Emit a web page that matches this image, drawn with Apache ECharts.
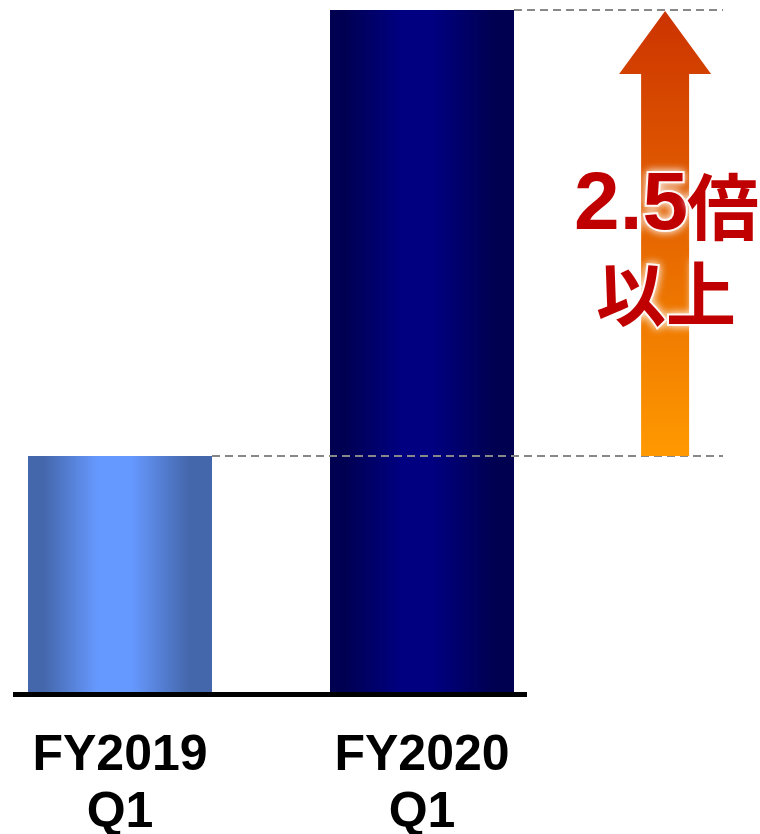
<!DOCTYPE html>
<html><head><meta charset="utf-8">
<script src="https://cdn.jsdelivr.net/npm/echarts@6/dist/echarts.min.js"></script>
<style>html,body{margin:0;padding:0;background:#fff}#c{width:760px;height:834px}</style>
</head><body><div id="c"></div>
<script>
// ---- data ----
const categories = ['FY2019\nQ1', 'FY2020\nQ1'];
const values = [1.01, 2.9];
const ratioText = '2.5';
const ratioUnit = '倍';
const ratioSuffix = '以上';
const arrowAt = 1.805;          // horizontal position of arrow (category units)

// ---- layout ----
const unitPx = 302, barWidthPx = 184;
const half = barWidthPx / 2 / unitPx;
const xMin = -107 / unitPx;
const xMax = xMin + 747 / unitPx;
const baseEnd = 1 + 105 / unitPx;
const dashEnd = 1 + 301 / unitPx;

const barColors = [
  new echarts.graphic.LinearGradient(0, 0, 1, 0, [
    {offset: 0, color: '#4466AA'}, {offset: 0.08, color: '#4466AA'},
    {offset: 0.38, color: '#6699FF'}, {offset: 0.56, color: '#6699FF'},
    {offset: 0.88, color: '#4466AA'}, {offset: 1, color: '#4466AA'}]),
  new echarts.graphic.LinearGradient(0, 0, 1, 0, [
    {offset: 0, color: '#000050'}, {offset: 0.08, color: '#000052'},
    {offset: 0.38, color: '#000080'}, {offset: 0.56, color: '#000080'},
    {offset: 0.88, color: '#000052'}, {offset: 1, color: '#000050'}])
];

const chart = echarts.init(document.getElementById('c'), null, {renderer: 'canvas'});
chart.setOption({
  animation: false,
  backgroundColor: '#fff',
  grid: {left: 13, right: 0, top: 10, bottom: 139.5, containLabel: false, outerBoundsMode: 'none'},
  xAxis: {
    type: 'value', min: xMin, max: xMax,
    axisLine: {show: false}, axisTick: {show: false}, splitLine: {show: false},
    axisLabel: {
      customValues: categories.map((_, i) => i),
      formatter: v => categories[Math.round(v)] || '',
      fontFamily: 'Liberation Sans, Arial, sans-serif', fontWeight: 'bold',
      fontSize: 50, lineHeight: 57, color: '#000', margin: 33
    }
  },
  yAxis: {type: 'value', min: 0, max: values[1], show: false, splitLine: {show: false}},
  series: [{
    type: 'bar',
    barWidth: barWidthPx,
    data: values.map((v, i) => ({value: [i, v], itemStyle: {color: barColors[i]}})),
    markLine: {
      symbol: 'none', silent: true, label: {show: false},
      lineStyle: {type: [8, 5], color: '#888', width: 2},
      data: [
        [{coord: [half, values[0]]}, {coord: [dashEnd, values[0]]}],
        [{coord: [1 + half, values[1]]}, {coord: [dashEnd, values[1]]}],
        [{coord: [xMin, 0], lineStyle: {type: 'solid', color: '#000', width: 5}},
         {coord: [baseEnd, 0]}]
      ]
    }
  }, {
    type: 'custom',
    data: [[arrowAt, values[0], values[1]]],
    z: 5,
    renderItem(params, api) {
      const b = api.coord([api.value(0), api.value(1)]);
      const t = api.coord([api.value(0), api.value(2)]);
      const cx = b[0], yb = b[1], yt = t[1] + 1;
      const sw = 48, hw = 92, hh = 63;
      const pts = [[cx - sw / 2, yb], [cx - sw / 2, yt + hh], [cx - hw / 2, yt + hh], [cx, yt],
                   [cx + hw / 2, yt + hh], [cx + sw / 2, yt + hh], [cx + sw / 2, yb]];
      const H = yb - yt;
      const glow = {shadowColor: '#fff', shadowBlur: 8, textShadowColor: '#fff', textShadowBlur: 8,
                    stroke: 'rgba(255,255,255,0.9)', lineWidth: 4};
      const red = '#C00000';
      return {type: 'group', children: [
        {type: 'polygon', shape: {points: pts},
         style: {fill: new echarts.graphic.LinearGradient(0, 0, 0, 1, [
           {offset: 0, color: '#CC3300'}, {offset: 1, color: '#FF9900'}])}},
        {type: 'text', x: cx + 23, y: yt + H * 0.44,
         style: Object.assign({
           text: ratioText, align: 'right', verticalAlign: 'middle',
           fontFamily: 'Liberation Sans, Arial, sans-serif', fontWeight: 'bold', fontSize: 82, fill: red
         }, glow)},
        {type: 'text', x: cx + 22, y: yt + H * 0.44,
         style: Object.assign({
           text: ratioUnit, align: 'left', verticalAlign: 'middle',
           fontFamily: 'Noto Sans CJK JP', fontWeight: 'bold', fontSize: 72, fill: red
         }, glow)},
        {type: 'text', x: cx + 1, y: yt + H * 0.637,
         style: Object.assign({
           text: ratioSuffix, align: 'center', verticalAlign: 'middle',
           fontFamily: 'Noto Sans CJK JP', fontWeight: 'bold', fontSize: 70, fill: red
         }, glow)}
      ]};
    }
  }]
});
</script></body></html>
